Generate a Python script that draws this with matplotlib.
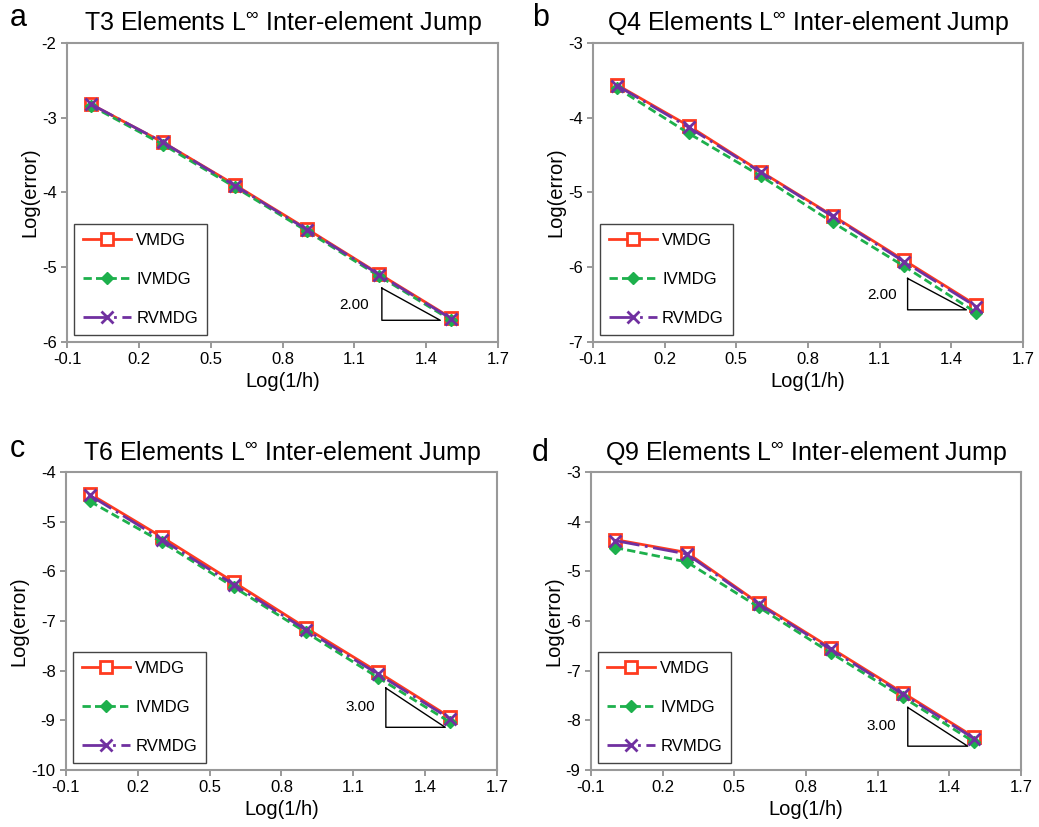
import numpy as np
import matplotlib
matplotlib.use("Agg")
import matplotlib.pyplot as plt

plt.rcParams['font.family'] = ['Liberation Sans', 'DejaVu Sans']
plt.rcParams['axes.unicode_minus'] = False
plt.rcParams['mathtext.fontset'] = 'custom'
plt.rcParams['mathtext.rm'] = 'Liberation Sans'

# log(1/h) for the six meshes
x_vals = [0.0, 0.301, 0.602, 0.903, 1.204, 1.505]

titles = ["T3 Elements L$^{\\infty}$ Inter-element Jump",
          "Q4 Elements L$^{\\infty}$ Inter-element Jump",
          "T6 Elements L$^{\\infty}$ Inter-element Jump",
          "Q9 Elements L$^{\\infty}$ Inter-element Jump"]
letters = ["a", "b", "c", "d"]

vmdg = [
    [-2.82, -3.33, -3.90, -4.49, -5.09, -5.68],
    [-3.56, -4.11, -4.72, -5.31, -5.91, -6.51],
    [-4.44, -5.31, -6.22, -7.14, -8.03, -8.94],
    [-4.36, -4.62, -5.64, -6.54, -7.44, -8.34],
]
ivmdg = [
    [-2.84, -3.36, -3.93, -4.52, -5.12, -5.71],
    [-3.60, -4.21, -4.78, -5.40, -5.99, -6.61],
    [-4.59, -5.41, -6.32, -7.23, -8.14, -9.04],
    [-4.52, -4.81, -5.72, -6.64, -7.53, -8.44],
]
rvmdg = [
    [-2.82, -3.33, -3.91, -4.50, -5.10, -5.69],
    [-3.57, -4.13, -4.73, -5.32, -5.93, -6.53],
    [-4.47, -5.36, -6.27, -7.18, -8.07, -8.97],
    [-4.38, -4.65, -5.66, -6.57, -7.47, -8.37],
]

y_limits = [(-6, -2), (-7, -3), (-10, -4), (-9, -3)]

# slope triangles: (x_left, x_right), (y_top, y_bottom), label and its position
tri_x = [(1.215, 1.459), (1.217, 1.463), (1.236, 1.484), (1.226, 1.477)]
tri_y = [(-5.28, -5.71), (-6.15, -6.57), (-8.35, -9.14), (-7.74, -8.52)]
slope_labels = ["2.00", "2.00", "3.00", "3.00"]
label_pos = [(1.10, -5.50), (1.108, -6.37), (1.13, -8.74), (1.115, -8.11)]

# axes boxes in figure fractions
boxes = [
    [0.0645, 0.5865, 0.4148, 0.3616],
    [0.5707, 0.5865, 0.4139, 0.3616],
    [0.0635, 0.0689, 0.4148, 0.3603],
    [0.5688, 0.0689, 0.4139, 0.3603],
]
letter_pos = [(0.009, 0.968), (0.512, 0.968), (0.009, 0.447), (0.512, 0.442)]

red = "#ff3b1f"
green = "#1db04c"
purple = "#7030a0"

fig = plt.figure(figsize=(10.39, 8.27), dpi=100)

for i in range(4):
    ax = fig.add_axes(boxes[i])
    ax.plot(x_vals, vmdg[i], color=red, lw=2, marker='s', ms=8,
            mfc='white', mec=red, mew=2, label="VMDG", zorder=3)
    ax.plot(x_vals, ivmdg[i], color=green, lw=2, ls=(0, (3, 1.5)),
            marker='D', ms=6, mfc=green, mec=green, label="IVMDG", zorder=4)
    ax.plot(x_vals, rvmdg[i], color=purple, lw=2, ls=(0, (9, 2, 1, 2)),
            marker='x', ms=8, mew=2, label="RVMDG", zorder=5)

    tx, ty = tri_x[i], tri_y[i]
    ax.plot([tx[0], tx[0], tx[1], tx[0]], [ty[0], ty[1], ty[1], ty[0]],
            color='black', lw=1, zorder=2)
    ax.text(label_pos[i][0], label_pos[i][1], slope_labels[i],
            fontsize=11, ha='center', va='center')

    ax.set_xlim(-0.1, 1.7)
    ax.set_xticks(np.arange(-0.1, 1.75, 0.3))
    ax.set_xticklabels(["-0.1", "0.2", "0.5", "0.8", "1.1", "1.4", "1.7"])
    ax.set_ylim(*y_limits[i])
    ax.set_yticks(np.arange(y_limits[i][0], y_limits[i][1] + 0.5, 1))
    ax.tick_params(labelsize=12, direction='out', length=4,
                   color='#888888', width=1.2)
    for s in ax.spines.values():
        s.set_color('#999999')
        s.set_linewidth(1.5)
    ax.set_xlabel("Log(1/h)", fontsize=14.5, labelpad=3)
    ax.set_ylabel("Log(error)", fontsize=14.5, labelpad=2)
    ax.set_title(titles[i], fontsize=18, pad=9)

    leg = ax.legend(loc='lower left', bbox_to_anchor=(0.0, 0.0),
                    fontsize=12, handlelength=2.9, handletextpad=0.3,
                    labelspacing=1.45, borderpad=0.55, fancybox=False,
                    framealpha=1, borderaxespad=0.4)
    leg.get_frame().set_edgecolor('#444444')
    leg.get_frame().set_linewidth(1)

    fig.text(letter_pos[i][0], letter_pos[i][1], letters[i], fontsize=22)

fig.savefig("out.png", dpi=100)
